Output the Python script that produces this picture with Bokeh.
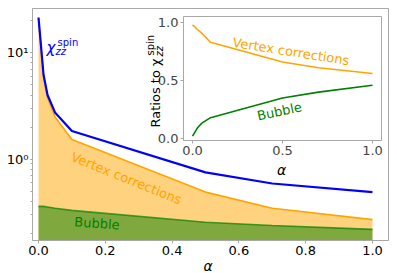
from bokeh.plotting import figure
from bokeh.models import Label, Range1d, FixedTicker, PrintfTickFormatter, CustomJSTickFormatter
from bokeh.embed import file_html
from bokeh.resources import INLINE

# ---- data ----
alpha = [0.0, 0.015, 0.027, 0.05, 0.1, 0.5, 0.7, 1.0]
chi_spin = [21.4, 6.2, 4.0, 2.72, 1.84, 0.75, 0.59, 0.49]
vertex = [21.0, 5.9, 3.76, 2.47, 1.53, 0.49, 0.345, 0.27]
bubble = [0.36, 0.36, 0.355, 0.345, 0.33, 0.255, 0.238, 0.219]
ratio_vertex = [0.98, 0.96, 0.94, 0.91, 0.83, 0.66, 0.61, 0.56]
ratio_bubble = [0.02, 0.06, 0.09, 0.13, 0.18, 0.35, 0.40, 0.46]
x_ticks = [0.0, 0.2, 0.4, 0.6, 0.8, 1.0]
inset_ticks = [0.0, 0.5, 1.0]

FONT = "DejaVu Sans"
GRAY = "#a8a8a8"

# ---- main plot ----
p = figure(width=397, height=273, x_range=Range1d(-0.018, 1.048),
           y_range=Range1d(0.172, 26.0), y_axis_type="log",
           output_backend="svg", toolbar_location=None,
           min_border_left=40, min_border_right=1, min_border_top=8, min_border_bottom=33,
           styles={"position": "absolute", "left": "-8px", "top": "0px"})
p.grid.visible = False
p.outline_line_color = GRAY
p.background_fill_color = "white"
p.border_fill_alpha = 0

for ax in (p.xaxis[0], p.yaxis[0]):
    ax.axis_line_color = GRAY
    ax.major_tick_line_color = GRAY
    ax.minor_tick_line_color = GRAY
    ax.major_tick_in = 0
    ax.minor_tick_in = 0
    ax.major_label_text_font = FONT
    ax.major_label_text_font_size = "13px"
    ax.major_label_text_color = "black"
    ax.major_label_standoff = 2

p.xaxis.ticker = FixedTicker(ticks=x_ticks)
p.xaxis.formatter = PrintfTickFormatter(format="%.1f")
p.xaxis.major_tick_out = 3
p.xaxis.minor_tick_line_color = None
p.yaxis.major_tick_out = 2
p.yaxis.minor_tick_out = 2
p.yaxis.formatter = CustomJSTickFormatter(code="""
const e = Math.round(Math.log10(tick));
const sup = {"-1": "\u207b\u00b9", "0": "\u2070", "1": "\u00b9", "2": "\u00b2"};
return "10" + (sup[String(e)] ?? String(e));
""")

p.varea(x=alpha, y1=0.1, y2=vertex, fill_color="orange", fill_alpha=0.5)
p.varea(x=alpha, y1=0.1, y2=bubble, fill_color="green", fill_alpha=0.5)
p.line(alpha, vertex, line_color="orange", line_width=1.6)
p.line(alpha, bubble, line_color="green", line_width=1.6, line_alpha=0.7)
p.line(alpha, chi_spin, line_color="blue", line_width=2.2)


def lab(fig, x, y, text, color="black", size="13px", angle=0, align="center",
        baseline="middle", style="normal"):
    fig.add_layout(Label(x=x, y=y, text=text, text_color=color, text_font=FONT,
                         text_font_size=size, angle=angle, angle_units="deg",
                         text_align=align, text_baseline=baseline,
                         text_font_style=style))


lab(p, 0.263, 0.66, "Vertex corrections", color="orange", angle=-22)
lab(p, 0.175, 0.249, "Bubble", color="green", angle=-4)
lab(p, 0.024, 11.15, "\u03c7", color="blue", size="15px", align="left",
    baseline="alphabetic", style="italic")
lab(p, 0.051, 10.2, "zz", color="blue", size="10px", align="left",
    baseline="alphabetic", style="italic")
lab(p, 0.057, 12.4, "spin", color="blue", size="10px", align="left",
    baseline="alphabetic")

# ---- inset ----
inset = figure(width=243, height=159, x_range=Range1d(-0.05, 1.05),
               y_range=Range1d(-0.017, 1.052), output_backend="svg",
               toolbar_location=None, min_border_left=43, min_border_right=2,
               min_border_top=2, min_border_bottom=33,
               styles={"position": "absolute", "left": "140px", "top": "14px"})
inset.grid.visible = False
inset.outline_line_color = GRAY
inset.border_fill_alpha = 0
inset.background_fill_color = "white"
for ax in (inset.xaxis[0], inset.yaxis[0]):
    ax.ticker = FixedTicker(ticks=inset_ticks)
    ax.formatter = PrintfTickFormatter(format="%.1f")
    ax.axis_line_color = GRAY
    ax.major_tick_line_color = GRAY
    ax.minor_tick_line_color = None
    ax.major_tick_in = 0
    ax.major_tick_out = 3
    ax.major_label_text_font = FONT
    ax.major_label_text_font_size = "13px"
    ax.major_label_standoff = 2

inset.line(alpha, ratio_vertex, line_color="orange", line_width=1.6)
inset.line(alpha, ratio_bubble, line_color="green", line_width=1.6)
lab(inset, 0.547, 0.75, "Vertex corrections", color="orange", angle=-9)
lab(inset, 0.483, 0.233, "Bubble", color="green", angle=12)

# ---- transparent overlay for axis titles outside the frames (page pixels) ----
ov = figure(width=397, height=273, x_range=Range1d(0, 397), y_range=Range1d(273, 0),
            output_backend="svg", toolbar_location=None,
            x_axis_location=None, y_axis_location=None,
            min_border=0, min_border_left=0, min_border_right=0,
            min_border_top=0, min_border_bottom=0,
            styles={"position": "absolute", "left": "0px", "top": "0px"})
ov.grid.visible = False
ov.outline_line_color = None
ov.background_fill_alpha = 0
ov.border_fill_alpha = 0

lab(ov, 207.5, 265, "\u03b1", size="14px", baseline="alphabetic", style="italic")
lab(ov, 281, 169, "\u03b1", size="14px", baseline="alphabetic", style="italic")
lab(ov, 155, 127, "Ratios to \u03c7", angle=90, align="left", baseline="alphabetic")
lab(ov, 158.5, 56, "zz", size="10px", angle=90, align="left",
    baseline="alphabetic", style="italic")
lab(ov, 150, 55, "spin", size="10px", angle=90, align="left", baseline="alphabetic")

open("out.html", "w").write(file_html([p, inset, ov], INLINE))
